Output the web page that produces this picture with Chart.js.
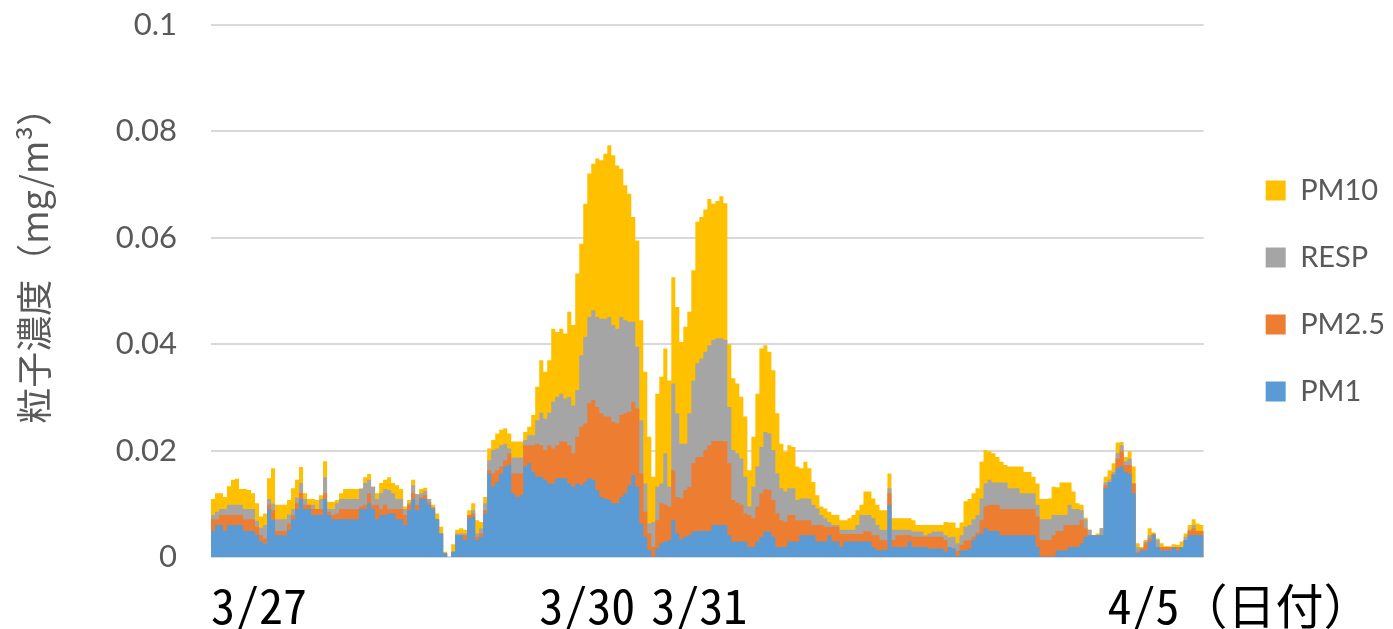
<!DOCTYPE html>
<html lang="ja">
<head>
<meta charset="utf-8">
<title>粒子濃度</title>
<script src="https://cdn.jsdelivr.net/npm/chart.js@4.4.1/dist/chart.umd.min.js"></script>
<style>
  html, body { margin: 0; padding: 0; background: #fff; }
  .container { position: relative; width: 1393px; height: 629px; }
</style>
</head>
<body>
<div class="container"><canvas id="chart"></canvas></div>
<script>
// concentrations in mg/m3, one value per sampling slot (3/27 -> 4/5)
const PM10 = [
  0.0109,0.0120,0.0120,0.0113,0.0133,0.0145,0.0147,0.0128,0.0128,0.0126,
  0.0120,0.0101,0.0076,0.0082,0.0148,0.0167,0.0098,0.0098,0.0098,0.0107,
  0.0129,0.0145,0.0169,0.0120,0.0109,0.0109,0.0107,0.0116,0.0180,0.0104,
  0.0104,0.0107,0.0120,0.0128,0.0128,0.0128,0.0128,0.0129,0.0150,0.0156,
  0.0132,0.0120,0.0139,0.0145,0.0150,0.0139,0.0135,0.0128,0.0095,0.0107,
  0.0145,0.0118,0.0128,0.0130,0.0109,0.0098,0.0082,0.0057,0.0010,0,
  0.0024,
  0.0051,0.0054,0.0051,0.0088,0.0101,0.0069,0.0066,0.0113,0.0204,0.0220,
  0.0232,0.0239,0.0242,0.0232,0.0217,0.0217,0.0217,0.0235,0.0245,0.0267,
  0.0320,0.0370,0.0348,0.0370,0.0429,0.0423,0.0429,0.0420,0.0461,0.0436,
  0.0533,0.0589,0.0664,0.0721,0.0739,0.0749,0.0746,0.0758,0.0774,0.0755,
  0.0736,0.0730,0.0699,0.0683,0.0639,0.0595,0.0445,0.0348,0.0226,0.0151,
  0.0307,0.0339,0.0392,0.0332,0.0526,0.0470,0.0404,0.0433,0.0461,0.0539,
  0.0630,0.0639,0.0653,0.0673,0.0664,0.0669,0.0678,0.0665,0.0400,0.0336,
  0.0326,0.0301,0.0264,0.0163,0.0226,0.0307,0.0392,0.0398,0.0386,0.0351,
  0.0270,0.0213,0.0198,0.0210,0.0207,0.0170,0.0167,0.0179,0.0167,0.0141,
  0.0116,0.0095,0.0091,0.0085,0.0079,0.0079,0.0069,0.0069,0.0073,0.0079,
  0.0088,0.0098,0.0123,0.0123,0.0110,0.0098,0.0088,0.0088,0.0157,0.0073,
  0.0073,0.0073,0.0073,0.0073,0.0069,0.0060,0.0060,0.0060,0.0060,0.0060,
  0.0060,0.0060,0.0066,
  0.0065,0.0065,0.0055,0.0065,0.0105,0.0109,0.0120,0.0129,0.0179,0.0201,
  0.0199,0.0195,0.0188,0.0179,0.0173,0.0170,0.0170,0.0170,0.0170,0.0160,
  0.0160,0.0151,0.0138,0.0109,0.0109,0.0110,0.0132,0.0131,0.0140,0.0140,
  0.0140,0.0123,0.0101,0.0098,0.0074,0.0051,0.0041,0.0044,0.0054,0.0151,
  0.0163,0.0176,0.0215,0.0216,0.0188,0.0199,0.0170,0.0026,0.0019,0.0032,
  0.0054,0.0046,0.0035,0.0026,0.0020,0.0020,0.0024,0.0023,0.0029,0.0044,
  0.0060,0.0071,0.0063,0.0060,0.0060
];
const RESP = [
  0.0079,0.0085,0.0090,0.0090,0.0098,0.0098,0.0098,0.0098,0.0090,0.0090,
  0.0090,0.0068,0.0055,0.0060,0.0109,0.0100,0.0071,0.0071,0.0071,0.0080,
  0.0090,0.0112,0.0139,0.0109,0.0098,0.0098,0.0090,0.0109,0.0150,0.0090,
  0.0090,0.0101,0.0109,0.0109,0.0109,0.0109,0.0109,0.0128,0.0139,0.0145,
  0.0132,0.0109,0.0120,0.0128,0.0126,0.0120,0.0109,0.0109,0.0090,0.0101,
  0.0135,0.0118,0.0120,0.0124,0.0109,0.0094,0.0071,0.0044,0.0007,0,
  0.0010,
  0.0044,0.0044,0.0044,0.0079,0.0088,0.0044,0.0054,0.0101,0.0182,0.0201,
  0.0204,0.0210,0.0213,0.0204,0.0187,0.0187,0.0187,0.0220,0.0229,0.0229,
  0.0257,0.0271,0.0260,0.0271,0.0292,0.0301,0.0307,0.0298,0.0301,0.0285,
  0.0314,0.0379,0.0414,0.0451,0.0464,0.0451,0.0448,0.0448,0.0451,0.0436,
  0.0429,0.0451,0.0445,0.0442,0.0442,0.0395,0.0257,0.0138,0.0063,0.0066,
  0.0132,0.0138,0.0195,0.0132,0.0326,0.0270,0.0213,0.0213,0.0270,0.0332,
  0.0364,0.0373,0.0386,0.0398,0.0408,0.0411,0.0411,0.0408,0.0282,0.0201,
  0.0195,0.0185,0.0151,0.0095,0.0132,0.0170,0.0207,0.0235,0.0232,0.0201,
  0.0157,0.0129,0.0123,0.0129,0.0129,0.0107,0.0110,0.0110,0.0110,0.0098,
  0.0091,0.0079,0.0073,0.0066,0.0060,0.0060,0.0051,0.0051,0.0051,0.0051,
  0.0060,0.0079,0.0079,0.0079,0.0073,0.0060,0.0051,0.0051,0.0129,0.0051,
  0.0051,0.0051,0.0051,0.0051,0.0048,0.0048,0.0048,0.0041,0.0044,0.0048,
  0.0048,0.0048,0.0041,
  0.0037,0.0038,0.0026,0.0041,0.0057,0.0060,0.0071,0.0079,0.0110,0.0138,
  0.0145,0.0140,0.0140,0.0140,0.0140,0.0129,0.0129,0.0129,0.0120,0.0120,
  0.0120,0.0120,0.0098,0.0071,0.0071,0.0071,0.0079,0.0079,0.0079,0.0079,
  0.0098,0.0090,0.0090,0.0088,0.0071,0.0051,0.0041,0.0041,0.0054,0.0140,
  0.0145,0.0160,0.0195,0.0210,0.0180,0.0185,0.0138,0.0019,0.0016,0.0029,
  0.0041,0.0044,0.0032,0.0019,0.0019,0.0019,0.0019,0.0019,0.0019,0.0038,
  0.0051,0.0060,0.0049,0.0049,0.0049
];
const PM25 = [
  0.0071,0.0071,0.0079,0.0079,0.0079,0.0079,0.0079,0.0079,0.0071,0.0071,
  0.0071,0.0057,0.0041,0.0035,0.0098,0.0088,0.0049,0.0049,0.0049,0.0063,
  0.0079,0.0101,0.0120,0.0098,0.0098,0.0090,0.0090,0.0090,0.0120,0.0085,
  0.0079,0.0082,0.0090,0.0090,0.0090,0.0090,0.0090,0.0095,0.0098,0.0120,
  0.0098,0.0098,0.0090,0.0098,0.0090,0.0090,0.0090,0.0090,0.0079,0.0098,
  0.0120,0.0098,0.0113,0.0116,0.0103,0.0092,0.0071,0.0044,0.0007,0,
  0.0010,
  0.0041,0.0041,0.0041,0.0079,0.0082,0.0038,0.0044,0.0088,0.0163,0.0157,
  0.0163,0.0170,0.0182,0.0195,0.0157,0.0157,0.0157,0.0210,0.0210,0.0210,
  0.0213,0.0210,0.0201,0.0210,0.0204,0.0210,0.0217,0.0217,0.0210,0.0195,
  0.0226,0.0245,0.0251,0.0289,0.0295,0.0282,0.0270,0.0264,0.0264,0.0254,
  0.0251,0.0267,0.0270,0.0273,0.0292,0.0279,0.0157,0.0085,0.0044,0.0019,
  0.0069,0.0101,0.0098,0.0095,0.0163,0.0113,0.0110,0.0126,0.0132,0.0176,
  0.0188,0.0188,0.0201,0.0210,0.0218,0.0218,0.0218,0.0217,0.0176,0.0107,
  0.0102,0.0098,0.0082,0.0079,0.0073,0.0095,0.0120,0.0127,0.0126,0.0107,
  0.0082,0.0069,0.0066,0.0079,0.0079,0.0069,0.0069,0.0069,0.0069,0.0060,
  0.0060,0.0060,0.0057,0.0057,0.0057,0.0057,0.0043,0.0043,0.0043,0.0043,
  0.0043,0.0043,0.0048,0.0048,0.0041,0.0041,0.0032,0.0032,0.0120,0.0032,
  0.0041,0.0041,0.0041,0.0041,0.0038,0.0038,0.0038,0.0038,0.0038,0.0038,
  0.0038,0.0038,0.0032,
  0.0019,0.0016,0.0012,0.0023,0.0031,0.0032,0.0038,0.0046,0.0069,0.0095,
  0.0098,0.0098,0.0098,0.0090,0.0090,0.0090,0.0090,0.0090,0.0090,0.0090,
  0.0090,0.0090,0.0076,0.0032,0.0032,0.0032,0.0041,0.0049,0.0049,0.0060,
  0.0060,0.0060,0.0060,0.0069,0.0054,0.0041,0.0041,0.0041,0.0041,0.0135,
  0.0141,0.0156,0.0185,0.0199,0.0173,0.0173,0.0138,0.0010,0.0016,0.0026,
  0.0035,0.0043,0.0019,0.0019,0.0019,0.0019,0.0019,0.0019,0.0019,0.0032,
  0.0049,0.0054,0.0049,0.0049,0.0049
];
const PM1 = [
  0.0049,0.0060,0.0060,0.0049,0.0060,0.0060,0.0060,0.0060,0.0049,0.0049,
  0.0049,0.0041,0.0030,0.0025,0.0090,0.0070,0.0041,0.0041,0.0041,0.0051,
  0.0071,0.0090,0.0109,0.0090,0.0090,0.0079,0.0079,0.0079,0.0109,0.0079,
  0.0071,0.0071,0.0071,0.0071,0.0071,0.0071,0.0071,0.0090,0.0090,0.0101,
  0.0090,0.0071,0.0079,0.0079,0.0082,0.0082,0.0071,0.0071,0.0060,0.0088,
  0.0109,0.0088,0.0109,0.0109,0.0098,0.0090,0.0071,0.0044,0.0007,0,
  0.0010,
  0.0041,0.0041,0.0032,0.0073,0.0076,0.0032,0.0038,0.0082,0.0157,0.0132,
  0.0141,0.0157,0.0170,0.0173,0.0120,0.0113,0.0116,0.0170,0.0176,0.0160,
  0.0151,0.0151,0.0145,0.0138,0.0138,0.0148,0.0148,0.0148,0.0138,0.0132,
  0.0138,0.0135,0.0141,0.0148,0.0145,0.0126,0.0113,0.0110,0.0107,0.0101,
  0.0101,0.0113,0.0120,0.0135,0.0154,0.0132,0.0063,0.0038,0.0013,0.0001,
  0.0016,0.0026,0.0029,0.0032,0.0069,0.0044,0.0033,0.0038,0.0041,0.0048,
  0.0049,0.0049,0.0049,0.0049,0.0060,0.0060,0.0060,0.0060,0.0041,0.0029,
  0.0029,0.0029,0.0029,0.0019,0.0019,0.0029,0.0038,0.0048,0.0048,0.0038,
  0.0019,0.0019,0.0019,0.0029,0.0029,0.0029,0.0041,0.0041,0.0041,0.0041,
  0.0029,0.0029,0.0029,0.0041,0.0029,0.0029,0.0019,0.0029,0.0029,0.0029,
  0.0029,0.0029,0.0029,0.0029,0.0019,0.0013,0.0013,0.0013,0.0098,0.0019,
  0.0019,0.0019,0.0019,0.0029,0.0019,0.0019,0.0019,0.0019,0.0016,0.0016,
  0.0016,0.0016,0.0010,
  0.0019,0.0016,0.0002,0.0012,0.0012,0.0016,0.0032,0.0041,0.0044,0.0054,
  0.0049,0.0049,0.0049,0.0041,0.0041,0.0041,0.0041,0.0041,0.0041,0.0041,
  0.0041,0.0041,0.0019,0.0001,0.0001,0.0001,0.0001,0.0012,0.0012,0.0012,
  0.0019,0.0019,0.0019,0.0026,0.0038,0.0041,0.0041,0.0041,0.0041,0.0129,
  0.0140,0.0154,0.0167,0.0170,0.0160,0.0156,0.0120,0.0007,0.0012,0.0012,
  0.0029,0.0041,0.0019,0.0012,0.0012,0.0012,0.0019,0.0012,0.0019,0.0032,
  0.0041,0.0041,0.0041,0.0041,0.0041
];

const seriesNames = ["PM1", "PM2.5", "RESP", "PM10"];
const seriesColors = ["#5B9BD5", "#ED7D31", "#A5A5A5", "#FFC000"];

// date labels, placed at the sampling slot where the text starts
const dateTickAt = [0, 82, 110, 224];
const dateTickText = ["3/27", "3/30", "3/31", "4/5（日付）"];

const yTitle = "粒子濃度（mg/m³）";

const series = [PM1, PM25, RESP, PM10];
series.forEach((s, i) => {
  if (s.length !== PM10.length) throw new Error(seriesNames[i] + " has " + s.length + " values");
});
const slots = PM10.map((_, i) => i);

// push the legend a bit away from the plot
const legendGap = {
  id: "legendGap",
  afterLayout(chart) {
    chart.legend.left += 24;
    chart.legend.right += 24;
  },
};

Chart.defaults.font.family = 'Lato, "Noto Sans CJK JP", sans-serif';
Chart.defaults.color = "#595959";

new Chart(document.getElementById("chart"), {
  type: "line",
  data: {
    labels: slots,
    datasets: series.map((data, i) => ({
      label: seriesNames[i],
      data: data,
      backgroundColor: seriesColors[i],
      borderColor: seriesColors[i],
      borderWidth: 0,
      pointRadius: 0,
      stepped: true,
      fill: "origin",
    })),
  },
  options: {
    responsive: true,
    maintainAspectRatio: false,
    animation: false,
    devicePixelRatio: 1,
    layout: { padding: { top: 25, right: 22, bottom: 0, left: 0 } },
    plugins: {
      legend: {
        position: "right",
        fullSize: false,
        reverse: true,
        labels: {
          boxWidth: 20,
          boxHeight: 20,
          padding: 38,
          color: "#595959",
          font: { size: 29 },
        },
      },
      tooltip: { enabled: false },
    },
    scales: {
      x: {
        type: "linear",
        min: 0,
        max: slots.length - 1,
        grid: { display: false },
        border: { display: false },
        afterBuildTicks: (scale) => {
          scale.ticks = dateTickAt.map((v) => ({ value: v }));
        },
        afterFit: (scale) => {
          scale.height = 72;
          scale.paddingLeft = 0;
          scale.paddingRight = 0;
        },
        ticks: {
          align: "start",
          autoSkip: false,
          minRotation: 0,
          maxRotation: 0,
          padding: 12,
          color: "#000",
          font: {
            family: '"Noto Sans Mono CJK JP", "Liberation Sans Narrow", "Noto Sans CJK JP", sans-serif',
            size: 48,
          },
          callback: (v) => dateTickText[dateTickAt.indexOf(v)],
        },
      },
      y: {
        min: 0,
        max: 0.1,
        grid: { color: "#D9D9D9", lineWidth: 2, drawTicks: false },
        border: { display: false },
        afterFit: (scale) => {
          scale.width = 211;
          scale.paddingTop = 0;
          scale.paddingBottom = 0;
        },
        ticks: {
          stepSize: 0.02,
          padding: 34,
          color: "#595959",
          font: { size: 31 },
          callback: (v) => String(+v.toFixed(2)),
        },
        title: {
          display: true,
          text: "\u3000    " + yTitle,
          color: "#595959",
          padding: { top: 13 },
          font: { family: '"Noto Sans CJK JP", sans-serif', size: 36 },
        },
      },
    },
  },
  plugins: [legendGap],
});
</script>
</body>
</html>
